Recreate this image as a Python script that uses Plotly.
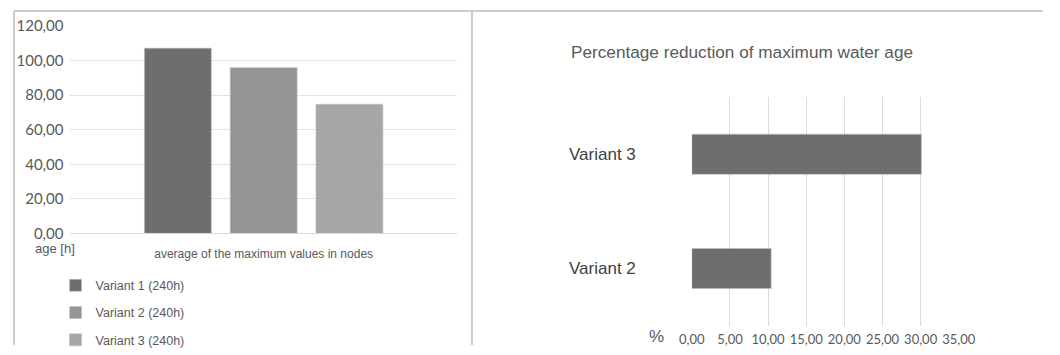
import plotly.graph_objects as go

W, H = 1060, 355

# ---- data ----
category = ["average of the maximum values in nodes"]
series_names = ["Variant 1 (240h)", "Variant 2 (240h)", "Variant 3 (240h)"]
max_age_values = [107.2, 95.9, 74.7]
series_colors = ["#6e6e6e", "#959595", "#a6a6a6"]

reduction_variants = ["Variant 2", "Variant 3"]
reduction_values = [10.4, 30.1]
reduction_ticks = [0, 5, 10, 15, 20, 25, 30, 35]

# layout helpers: map target pixel positions to paper coordinates
AX, BX = 0.968, 15.8
AY, BY = 0.942, 10.0

def px(x):
    return min(max(((x - BX) / AX) / W, 0), 1)

def py(y):
    return min(max((H - (y - BY) / AY) / H, 0), 1)

fig = go.Figure()

for name, val, col in zip(series_names, max_age_values, series_colors):
    fig.add_trace(go.Bar(
        x=category, y=[val], name=name,
        marker=dict(color=col, line=dict(color="#bdbdbd", width=0.6)),
        xaxis="x", yaxis="y", legendgroup=name, showlegend=True,
    ))

fig.add_trace(go.Bar(
    x=reduction_values, y=reduction_variants, orientation="h",
    marker=dict(color="#6e6e6e", line=dict(color="#bdbdbd", width=0.6)),
    width=0.35, xaxis="x2", yaxis="y2", showlegend=False,
))

num_font = dict(family="Lato, Liberation Sans, sans-serif", size=15, color="#595959")
txt_font = dict(family="Liberation Sans, Arial, sans-serif", color="#595959")

fig.update_layout(
    width=W, height=H,
    margin=dict(l=0, r=0, t=0, b=0),
    paper_bgcolor="white", plot_bgcolor="white",
    separators=", ",
    barmode="group", bargap=0.334, bargroupgap=0.22,
    xaxis=dict(domain=[px(73), px(458)], showgrid=False, showline=True, linecolor="#d9d9d9",
               linewidth=1, tickfont=dict(txt_font, size=12), ticks="", ticklabelstandoff=9,
               fixedrange=True),
    yaxis=dict(domain=[py(233), py(26)], range=[0, 120], dtick=20, tickformat=".2f",
               showgrid=True, gridcolor="#e3e3e3", zeroline=False, showline=False,
               tickfont=num_font, ticklabelstandoff=6),
    xaxis2=dict(domain=[px(692), px(958)], range=[0, 35], tickvals=reduction_ticks, tickformat=".2f",
                showgrid=True, gridcolor="#dcdcdc", zeroline=False, showline=False,
                tickangle=0, tickfont=dict(num_font, size=13), ticklabelstandoff=4, anchor="y2"),
    yaxis2=dict(domain=[py(325), py(97)], range=[-0.5, 1.5], type="category",
                categoryorder="array", categoryarray=reduction_variants,
                showgrid=False, showline=False, zeroline=False,
                tickfont=dict(txt_font, size=17, color="#404040"), ticklabelstandoff=55,
                anchor="x2"),
    legend=dict(x=43.8 / W, y=(H - 276.3) / H, xanchor="left", yanchor="top",
                font=dict(txt_font, size=12.5), traceorder="grouped", tracegroupgap=8,
                bgcolor="rgba(0,0,0,0)", itemwidth=30),
    showlegend=True,
)

fig.add_annotation(x=px(742), y=py(52), xref="paper", yref="paper",
                   text="Percentage reduction of maximum water age", showarrow=False,
                   font=dict(txt_font, size=17.2), xanchor="center", yanchor="middle")
fig.add_annotation(x=px(58), y=py(248), xref="paper", yref="paper", text="age [h]",
                   showarrow=False, font=dict(txt_font, size=13), xanchor="center", yanchor="middle")
fig.add_annotation(x=px(657), y=(H - 346) / H, xref="paper", yref="paper", text="%",
                   showarrow=False, font=dict(txt_font, size=17), xanchor="center", yanchor="middle")

border = dict(color="#cccccc", width=2)
top = (H - 1) / H
fig.add_shape(type="line", xref="paper", yref="paper", x0=1 / W, x1=1, y0=top, y1=top, line=border)
fig.add_shape(type="line", xref="paper", yref="paper", x0=1 / W, x1=1 / W, y0=top, y1=0, line=border)
fig.add_shape(type="line", xref="paper", yref="paper", x0=px(473), x1=px(473), y0=top, y1=0, line=border)

fig.write_html("out.html")
